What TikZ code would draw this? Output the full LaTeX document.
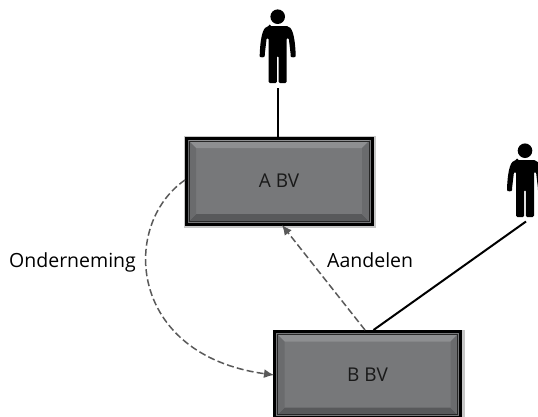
\documentclass[tikz,border=0pt]{standalone}
\usepackage{fontspec}
\setmainfont{Open Sans}
\usetikzlibrary{arrows.meta,shadows}
\definecolor{boxgray}{HTML}{77787A}
\definecolor{bevellight}{HTML}{8E8F91}
\definecolor{beveldark}{HTML}{58595B}
\definecolor{bevelside}{HTML}{6A6B6D}
\definecolor{dashgray}{HTML}{595959}
\tikzset{
    company/.style={draw=black,line width=3pt,fill=boxgray,minimum width=186pt,minimum height=86pt,
        inner sep=0pt,font=\fontsize{19}{22}\selectfont,text=black!90,
        general shadow={fill=black!28,shadow scale=1,shadow xshift=1pt,shadow yshift=-1pt,draw=black!22,line width=6pt},
        path picture={
            \coordinate (sw) at (path picture bounding box.south west);
            \coordinate (ne) at (path picture bounding box.north east);
            % bevel around the face
            \fill[beveldark] (sw) -- ++(10pt,10pt) -| ([shift={(-10pt,10pt)}]sw -| ne) -- (sw -| ne) -- cycle;
            \fill[bevellight] (ne) -- ++(-10pt,-10pt) -- ([shift={(10pt,-10pt)}]sw |- ne) -- (sw |- ne) -- cycle;
            \fill[bevelside] (sw) -- ++(10pt,10pt) -- ([shift={(10pt,-10pt)}]sw |- ne) -- (sw |- ne) -- cycle;
            \fill[bevelside] (sw -| ne) -- ++(-10pt,10pt) -- ([shift={(-10pt,-10pt)}]ne) -- (ne) -- cycle;
            \draw[boxgray,line width=4.4pt] (sw) rectangle (ne);
            \draw[black!85,line width=.8pt] ([shift={(2.9pt,2.9pt)}]sw) rectangle ([shift={(-2.9pt,-2.9pt)}]ne);
        }},
    label/.style={font=\fontsize{19.5}{22}\selectfont,text=black,inner sep=0pt,anchor=base west},
    owner/.style={draw=black,line width=2pt},
    transfer/.style={draw=dashgray,line width=1.5pt,dash pattern=on 7pt off 3.2pt,-{Latex[length=10pt,width=9pt]}},
    person/.pic={
        \fill[black] (0,0) circle (7.3);
        \fill[black,rounded corners=1.5pt] (-8,9.3) -- (8,9.3) .. controls (14,10) and (17,17) .. (18,38)
            .. controls (18,41) and (13,41) .. (13,38) -- (11,21) -- (9,21) -- (9,66.5) -- (.8,66.5) -- (.8,39)
            -- (-.8,39) -- (-.8,66.5) -- (-9,66.5) -- (-9,21) -- (-11,21) -- (-13,38)
            .. controls (-13,41) and (-18,41) .. (-18,38) .. controls (-17,17) and (-14,10) .. (-8,9.3) -- cycle;
    },
}
\begin{document}
\begin{tikzpicture}[x=1pt,y=-1pt]
    \useasboundingbox (0,0) rectangle (538,416);

    % draw companies
    \node[company] (abv) at (279,181) {A BV};
    \node[company] (bbv) at (367.5,374.5) {B BV};

    % draw persons
    \pic at (277.7,16.7) {person};
    \pic at (525,150.7) {person};
    \coordinate (feetone) at (277.7,88);
    \coordinate (feettwo) at (526,221.5);

    % draw ownership lines
    \draw[owner] (feetone) -- (feetone |- abv.north);
    \draw[owner] (feettwo) -- (373.5,330);

    % draw transfers
    \draw[transfer] (365,330) -- (282,225);
    \draw[transfer] (185,180) .. controls (120,225) and (128,355) .. (274,375);

    % place labels
    \node[label] (onderneming) at (9,267) {Onderneming};
    \node[label] (aandelen) at (327,267) {Aandelen};
\end{tikzpicture}
\end{document}
